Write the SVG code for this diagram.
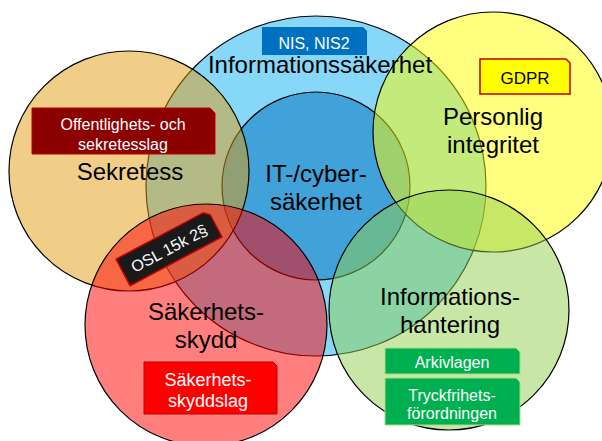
<svg xmlns="http://www.w3.org/2000/svg" width="602" height="441" viewBox="0 0 602 441">
  <style>
    .ring { stroke: #000; stroke-width: 1.2; }
    .see { fill-opacity: 0.5; }
    .lbl { font-family: "Liberation Sans", Arial, sans-serif; font-size: 24px; fill: #000; text-anchor: middle; }
    .tag { font-family: "Liberation Sans", Arial, sans-serif; font-size: 16px; fill: #fff; text-anchor: middle; }
  </style>
  <rect width="602" height="441" fill="#fff"/>

  <!-- outer ring: information security -->
  <g id="informationssakerhet">
    <circle class="ring" cx="316" cy="186" r="170" fill="#87D7F8"/>
  </g>

  <!-- inner ring: IT / cyber security -->
  <g id="it-cybersakerhet">
    <circle class="ring" cx="316" cy="186" r="94" fill="#41A1D9"/>
    <text class="lbl" x="316" y="182">IT-/cyber-</text>
    <text class="lbl" x="316" y="210">säkerhet</text>
  </g>

  <g id="sekretess">
    <circle class="ring see" cx="129" cy="171" r="120" fill="#E29D12"/>
    <text class="lbl" x="130" y="180">Sekretess</text>
  </g>

  <g id="sakerhetsskydd">
    <circle class="ring see" cx="206" cy="325" r="121" fill="#FF0000"/>
    <text class="lbl" x="206" y="320">Säkerhets-</text>
    <text class="lbl" x="206" y="348">skydd</text>
  </g>

  <g id="personlig-integritet">
    <circle class="ring see" cx="493" cy="132" r="120" fill="#FFFF00"/>
    <text class="lbl" x="493" y="125">Personlig</text>
    <text class="lbl" x="493" y="153">integritet</text>
  </g>

  <g id="informationshantering">
    <circle class="ring see" cx="449" cy="310" r="120" fill="#92D050"/>
    <text class="lbl" x="450" y="305">Informations-</text>
    <text class="lbl" x="450" y="333">hantering</text>
  </g>

  <!-- title of the outer ring, kept above the overlapping rings -->
  <g id="informationssakerhet-title">
    <text class="lbl" x="320" y="73">Informationssäkerhet</text>
  </g>

  <!-- law tags: rectangles with one clipped corner -->
  <g id="tag-nis">
    <path d="M262,27 H363 L367,31 V55 H262 Z" fill="#0070C0"/>
    <text class="tag" x="314" y="49">NIS, NIS2</text>
  </g>

  <g id="tag-osl">
    <path d="M32,108 H210 L215,113 V154 H32 Z" fill="#8B0000" stroke="#C00000" stroke-width="1"/>
    <text class="tag" x="123" y="130">Offentlighets- och</text>
    <text class="tag" x="123" y="150">sekretesslag</text>
  </g>

  <g id="tag-gdpr">
    <path d="M480,59 H566 L570,63 V94 H480 Z" fill="#FFFF00" stroke="#C00000" stroke-width="1.5"/>
    <text class="tag" x="525" y="84" style="fill:#000;font-size:17px">GDPR</text>
  </g>

  <g id="tag-osl-15k" transform="translate(169,248) rotate(-28)">
    <path d="M-52,-15 H47 L52,-10 V15 H-52 Z" fill="#1A1A1A" stroke="#C00000" stroke-width="1.5"/>
    <text class="tag" x="0" y="6">OSL 15k 2§</text>
  </g>

  <g id="tag-sakerhetsskyddslag">
    <path d="M144,362 H273 L277,366 V414 H144 Z" fill="#FF0000" stroke="#C00000" stroke-width="1"/>
    <text class="tag" x="208" y="386" style="font-size:18px">Säkerhets-</text>
    <text class="tag" x="208" y="407" style="font-size:18px">skyddslag</text>
  </g>

  <g id="tag-arkivlagen">
    <path d="M385,348 H516 L520,352 V374 H385 Z" fill="#00B050" stroke="#A8DC80" stroke-width="1"/>
    <text class="tag" x="452" y="368">Arkivlagen</text>
  </g>

  <g id="tag-tryckfrihetsforordningen">
    <path d="M385,378 H516 L520,382 V425 H385 Z" fill="#00B050" stroke="#A8DC80" stroke-width="1"/>
    <text class="tag" x="452" y="401">Tryckfrihets-</text>
    <text class="tag" x="452" y="419">förordningen</text>
  </g>
</svg>
